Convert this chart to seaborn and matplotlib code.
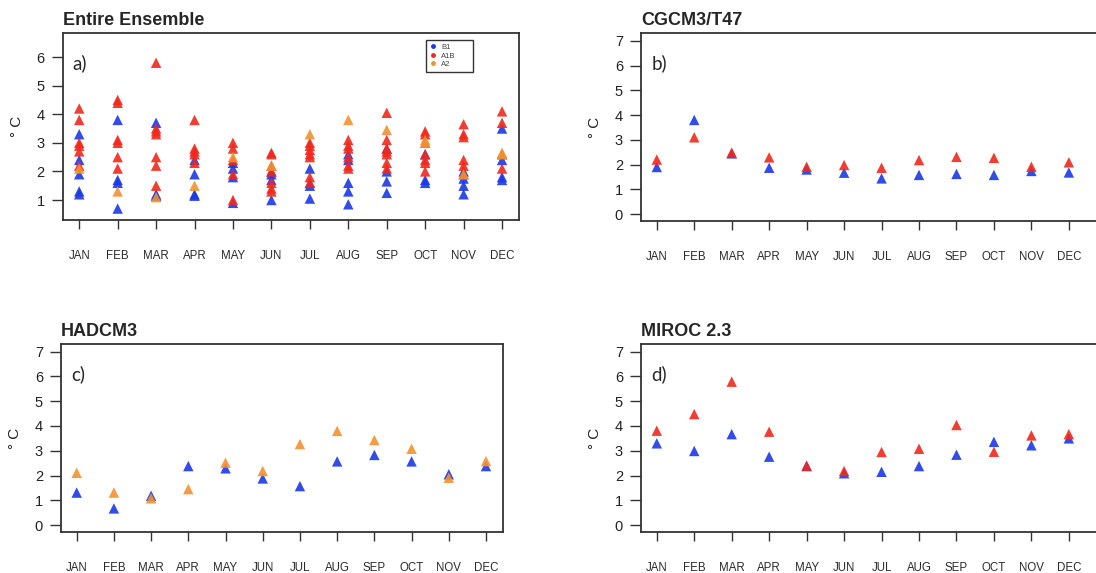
import numpy as np
import pandas as pd
import seaborn as sns
import matplotlib.pyplot as plt
from matplotlib.lines import Line2D

# ================= DATA =================
months = ["JAN", "FEB", "MAR", "APR", "MAY", "JUN",
          "JUL", "AUG", "SEP", "OCT", "NOV", "DEC"]

# entire ensemble: one list of model values per month
ens_b1 = [[3.3, 2.4, 1.9, 1.3, 1.2], [3.8, 1.7, 1.6, 0.7], [3.7, 1.2, 1.15],
          [2.4, 1.9, 1.2, 1.15], [2.3, 2.1, 1.8, 0.9], [2.0, 1.9, 1.7, 1.0],
          [2.1, 1.6, 1.5, 1.05], [2.6, 2.4, 1.6, 1.3, 0.85], [2.8, 2.0, 1.65, 1.25],
          [2.6, 1.7, 1.6], [2.0, 1.75, 1.5, 1.2], [3.5, 2.4, 1.8, 1.7]]
ens_a1b = [[4.2, 3.8, 3.0, 2.9, 2.7, 2.2], [4.5, 4.4, 3.1, 3.0, 2.5, 2.1],
           [5.8, 3.5, 3.4, 3.3, 2.5, 2.2, 1.5], [3.8, 2.8, 2.7, 2.6, 2.3],
           [3.0, 2.8, 2.4, 1.9, 1.0], [2.65, 2.6, 2.2, 2.0, 1.6, 1.4, 1.3],
           [3.0, 2.9, 2.75, 2.6, 2.5, 1.8, 1.6], [3.1, 2.9, 2.8, 2.5, 2.2, 2.1],
           [4.05, 3.1, 2.8, 2.7, 2.6, 2.3, 2.1], [3.4, 3.3, 3.0, 2.6, 2.4, 2.3, 2.0],
           [3.65, 3.3, 3.2, 2.4, 2.2, 1.9], [4.1, 3.7, 2.6, 2.1]]
ens_a2 = [[2.1], [1.3], [1.1], [1.5], [2.5], [2.2],
          [3.3], [3.8], [3.45], [3.1, 3.0], [1.9], [2.6, 2.65]]

cgcm_b1 = [1.9, 3.8, 2.45, 1.87, 1.8, 1.67, 1.44, 1.58, 1.62, 1.58, 1.74, 1.68]
cgcm_a1b = [2.2, 3.1, 2.48, 2.29, 1.91, 1.98, 1.87, 2.18, 2.31, 2.27, 1.91, 2.09]

hadcm_b1 = [1.31, 0.67, 1.18, 2.38, 2.29, 1.88, 1.57, 2.57, 2.83, 2.57, 2.05, 2.38]
hadcm_a2 = [2.11, 1.31, 1.08, 1.45, 2.52, 2.18, 3.27, 3.8, 3.43, 3.08, 1.91, 2.58]

miroc_b1 = [3.3, 2.99, 3.67, 2.76, 2.38, 2.09, 2.15, 2.38, 2.84, 3.36, 3.22, 3.5]
miroc_a1b = [3.81, 4.48, 5.79, 3.77, 2.4, 2.18, 2.95, 3.08, 4.04, 2.96, 3.62, 3.67]

scenarios = ["B1", "A1B", "A2"]
colors = {"B1": "#1a38e6", "A1B": "#f0281c", "A2": "#f39031"}


def ensemble_frame(series):
    rows = []
    for name, per_month in series:
        for m, vals in zip(months, per_month):
            for v in vals:
                rows.append((m, v, name))
    return pd.DataFrame(rows, columns=["month", "value", "scenario"])


def model_frame(series):
    rows = []
    for name, vals in series:
        for m, v in zip(months, vals):
            rows.append((m, v, name))
    return pd.DataFrame(rows, columns=["month", "value", "scenario"])


df_a = ensemble_frame([("B1", ens_b1), ("A1B", ens_a1b), ("A2", ens_a2)])
df_b = model_frame([("B1", cgcm_b1), ("A1B", cgcm_a1b)])
df_c = model_frame([("B1", hadcm_b1), ("A2", hadcm_a2)])
df_d = model_frame([("B1", miroc_b1), ("A1B", miroc_a1b)])

# ================= FIGURE =================
sns.set_theme(style="white")
plt.rcParams["font.family"] = ["Liberation Sans", "DejaVu Sans"]

fig = plt.figure(figsize=(10.96, 5.73), dpi=100)
ax_a = fig.add_axes([0.0572, 0.616, 0.4163, 0.3264])
ax_b = fig.add_axes([0.5849, 0.6148, 0.4187, 0.327])
ax_c = fig.add_axes([0.0557, 0.0721, 0.403, 0.327])
ax_d = fig.add_axes([0.5849, 0.0721, 0.4187, 0.327])


def draw(ax, df, title, tag, xlim, ylim, yticks):
    present = [s for s in scenarios if s in set(df["scenario"])]
    sns.stripplot(data=df, x="month", y="value", hue="scenario",
                  order=months, hue_order=present, palette=colors,
                  jitter=False, marker="^", size=7.5, linewidth=0,
                  alpha=0.9, legend=False, ax=ax)
    ax.set_xlim(xlim)
    ax.set_ylim(ylim)
    ax.set_yticks(yticks)
    ax.set_xticks(range(12))
    ax.set_xticklabels(months)
    ax.tick_params(axis="x", bottom=True, length=6.5, width=1, pad=15,
                   labelsize=8.3, color="#333333", labelcolor="#2a2a2a")
    ax.tick_params(axis="y", left=True, length=8, width=1, pad=5,
                   labelsize=10.5, color="#333333", labelcolor="#222222")
    ax.set_xlabel("")
    ax.set_ylabel("° C", fontsize=11, labelpad=9, color="#222222")
    for s in ax.spines.values():
        s.set_color("#333333")
        s.set_linewidth(1.3)
    ax.set_title(title, loc="left", fontweight="bold", fontsize=13, pad=6)
    ax.text(0.022, 0.84, tag, transform=ax.transAxes, fontsize=13.5,
            family=["Lato", "DejaVu Sans"], va="center", ha="left")


draw(ax_a, df_a, "Entire Ensemble", "a)", (-0.43, 11.44), (0.3, 6.84), range(1, 7))
draw(ax_b, df_b, "CGCM3/T47", "b)", (-0.42, 11.83), (-0.27, 7.3), range(0, 8))
draw(ax_c, df_c, "HADCM3", "c)", (-0.42, 11.45), (-0.27, 7.3), range(0, 8))
draw(ax_d, df_d, "MIROC 2.3", "d)", (-0.42, 11.83), (-0.27, 7.3), range(0, 8))

# ================= LEGEND =================
handles = [Line2D([0], [0], marker="o", linestyle="", markersize=3.5,
                  markerfacecolor=colors[s], markeredgewidth=0) for s in scenarios]
leg = ax_a.legend(handles, scenarios, loc="upper left", mode="expand",
                  bbox_to_anchor=(0.796, 0.80, 0.103, 0.163), fontsize=5.5,
                  frameon=True, fancybox=False, edgecolor="black",
                  borderpad=0.5, handlelength=0.8, handletextpad=0.7,
                  labelspacing=0.15, borderaxespad=0)
leg.get_frame().set_linewidth(1.0)
for t in leg.get_texts():
    t.set_color("#444444")

fig.savefig("out.png", dpi=100)
